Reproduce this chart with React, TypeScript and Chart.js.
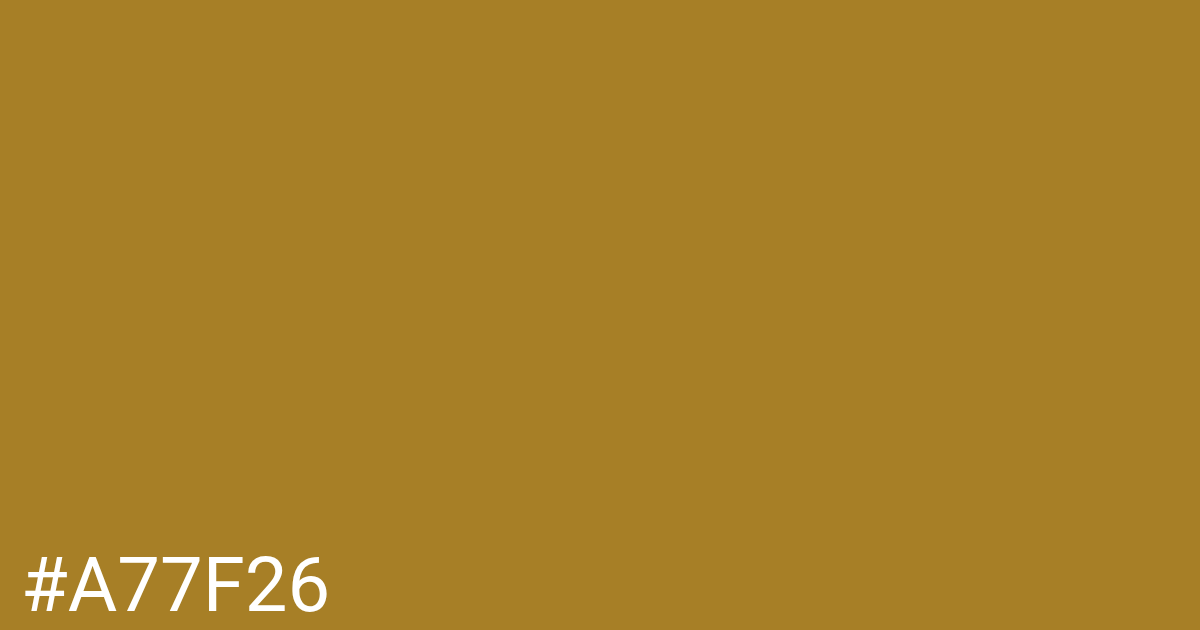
import { useRef, useEffect } from "react";
import { Chart, registerables } from "chart.js";

Chart.register(...registerables);

const swatchLabels = ["#A77F26"];
const swatchValues = [1];
const swatchColors = ["#A77F26"];

export default function App() {
    const canvasRef = useRef<HTMLCanvasElement | null>(null);

    useEffect(() => {
        document.body.style.margin = "0";
        const ctx = canvasRef.current?.getContext("2d");
        if (!ctx) return;

        // draw the hex code in the bottom-left corner
        const labelPlugin = {
            id: "swatchLabel",
            afterDraw(chart: Chart) {
                const c = chart.ctx;
                c.save();
                c.fillStyle = "#ffffff";
                c.font = "400 76px Roboto";
                c.textBaseline = "alphabetic";
                c.textAlign = "left";
                c.fillText(swatchLabels[0], 21, 611);
                c.restore();
            },
        };

        const chart = new Chart(ctx, {
            type: "bar",
            data: {
                labels: swatchLabels,
                datasets: [
                    {
                        data: swatchValues,
                        backgroundColor: swatchColors,
                        borderWidth: 0,
                        barPercentage: 1,
                        categoryPercentage: 1,
                    },
                ],
            },
            options: {
                animation: false,
                responsive: true,
                maintainAspectRatio: false,
                layout: { padding: 0 },
                plugins: {
                    legend: { display: false },
                    tooltip: { enabled: false },
                },
                scales: {
                    x: { display: false },
                    y: { display: false, min: 0, max: 1 },
                },
            },
            plugins: [labelPlugin],
        });

        return () => chart.destroy();
    }, []);

    return (
        <div style={{ position: "fixed", left: 0, top: 0, width: 1200, height: 630 }}>
            <canvas ref={canvasRef}></canvas>
        </div>
    );
}
